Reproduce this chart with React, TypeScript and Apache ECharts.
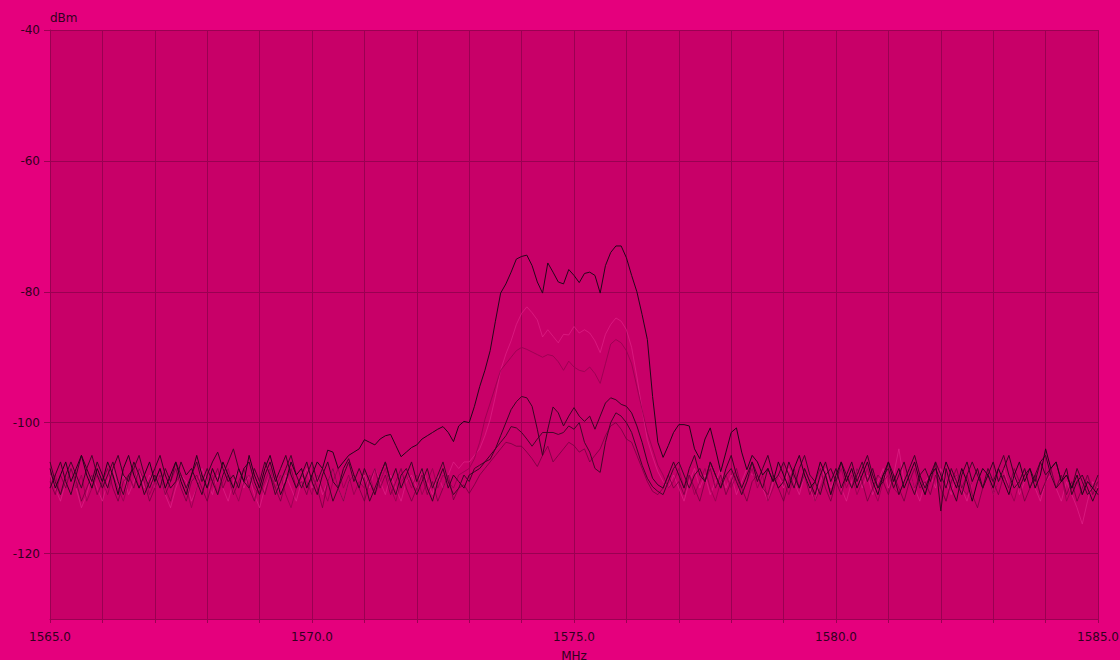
import React, { useEffect, useRef } from "react";
import * as echarts from "echarts";

// Frequency sampling grid (MHz), 0.1 MHz steps from 1565.0 to 1585.0
const freqStart = 1565;
const freqStep = 0.1;
const pointCount = 201;

const xLabelValues = [1565, 1570, 1575, 1580, 1585];
const yLabelValues = [-120, -100, -80, -60, -40];

// Trace A (strongest, black)
const levelA = [
  -107, -110, -108, -106, -109, -107, -105, -108, -110, -107,
  -109, -106, -108, -111, -107, -105, -108, -110, -108, -106,
  -109, -107, -110, -108, -106, -109, -111, -108, -105, -108,
  -110, -107, -109, -106, -108, -110, -107, -109, -105, -108,
  -110, -107, -105, -108, -111, -109, -106, -108, -107, -110,
  -108, -106, -107, -104.2, -104.5, -107, -106, -105, -104.5, -104,
  -102.6, -103, -103.4, -102.5, -102, -101.8, -103.5, -105.2, -104.5, -103.8,
  -103.4, -102.5, -102, -101.5, -101, -100.6, -101.5, -102.9, -100.5, -99.8,
  -100, -97.5, -94.5, -92, -89, -84.5, -80.2, -78.8, -77, -75,
  -74.6, -74.4, -76, -78.5, -80.2, -75.6, -77, -78.5, -78.8, -76.6,
  -77.5, -78.6, -77.2, -77, -77.5, -80.2, -76, -74, -73, -73,
  -74.8, -77.5, -80, -83.5, -87.3, -96, -103, -105.3, -103.5, -101.5,
  -100.3, -100.3, -100.5, -104, -105.5, -102.5, -100.8, -104, -107.5, -104.5,
  -101.5, -100.8, -104.5, -107.2, -105, -106, -108, -107, -109, -106,
  -108, -110, -107, -105, -108, -110, -109, -106, -108, -111,
  -108, -106, -109, -107, -110, -108, -106, -109, -111, -108,
  -106, -109, -107, -110, -108, -106, -109, -111, -108, -107,
  -109, -106, -108, -110, -107, -109, -112, -109, -107, -108,
  -110, -107, -109, -111, -108, -106, -109, -107, -110, -108,
  -104, -107, -106, -109, -108, -110, -108, -111, -109, -110,
  -111,
];

// Trace B (light pink)
const levelB = [
  -108, -110, -112, -109, -107, -110, -113, -111, -108, -110,
  -112, -109, -107, -110, -108, -111, -109, -107, -110, -108,
  -110, -108, -111, -113, -110, -108, -109, -112, -110, -107,
  -109, -111, -108, -110, -112, -109, -107, -110, -108, -111,
  -113, -110, -108, -109, -111, -108, -110, -112, -109, -107,
  -110, -108, -111, -109, -107, -110, -112, -109, -108, -110,
  -108, -110, -107, -109, -111, -108, -110, -112, -109, -108,
  -110, -107, -109, -111, -108, -110, -108, -106, -107, -106,
  -106, -105, -104, -102, -99.5, -96, -92, -89.5, -87.5, -85,
  -83.3, -82.3, -83.2, -84.3, -86.9, -85.8, -86.8, -87.8, -86.5, -86.6,
  -85.3, -86.3, -85.8, -86.3, -87.5, -89.3, -86.5, -85, -84, -84.5,
  -85.8, -88.5, -93, -98, -102.6, -105.2, -107.5, -109, -110, -108,
  -110, -112, -109, -107, -110, -108, -111, -109, -107, -110,
  -108, -111, -109, -107, -108, -108, -110, -112, -109, -108,
  -110, -107, -109, -111, -108, -110, -112, -109, -107, -110,
  -108, -110, -112, -109, -107, -110, -108, -111, -109, -107,
  -110, -108, -104, -109, -107, -110, -112, -109, -108, -110,
  -107, -109, -111, -108, -110, -112, -109, -107, -110, -108,
  -111, -109, -107, -110, -108, -111, -109, -107, -110, -112,
  -109, -108, -110, -112, -109, -111, -113, -115.5, -112, -109,
  -110,
];

// Trace C (mid pink)
const levelC = [
  -110, -108, -111, -109, -107, -110, -108, -112, -110, -108,
  -109, -111, -108, -110, -112, -109, -107, -110, -108, -111,
  -109, -107, -110, -112, -109, -108, -110, -113, -110, -108,
  -110, -108, -111, -109, -107, -110, -112, -109, -108, -110,
  -111, -109, -107, -110, -108, -111, -113, -110, -108, -109,
  -111, -108, -110, -112, -109, -107, -110, -108, -111, -109,
  -110, -108, -111, -109, -107, -110, -112, -109, -108, -110,
  -108, -111, -109, -107, -110, -108, -109, -110, -108, -107.5,
  -107, -105.5, -103, -99.5, -97, -94.5, -92, -91, -90, -89,
  -88.5, -88.8, -89.2, -89.6, -90, -89.6, -89.8, -90.7, -92, -90.6,
  -91.5, -92, -92.2, -91.5, -92.5, -94, -91, -88, -87.3, -87.8,
  -89, -91, -94.5, -98, -101.5, -104, -106.5, -108, -110, -109,
  -107, -110, -108, -111, -109, -107, -110, -112, -109, -108,
  -110, -108, -111, -109, -107, -110, -108, -112, -110, -108,
  -109, -111, -108, -110, -107, -109, -112, -110, -108, -111,
  -109, -107, -110, -108, -111, -109, -107, -110, -112, -109,
  -108, -110, -111, -109, -107, -110, -108, -111, -109, -107,
  -110, -112, -109, -108, -110, -111, -109, -107, -110, -108,
  -111, -109, -108, -110, -112, -109, -107, -110, -108, -111,
  -109, -107, -110, -108, -112, -110, -109, -111, -108, -110,
  -109,
];

// Trace D (black, low signal)
const levelD = [
  -110, -108, -106, -109, -111, -108, -105, -107, -109, -106,
  -108, -110, -107, -105, -108, -109, -106, -108, -111, -109,
  -107, -105, -108, -110, -109, -106, -108, -107, -109, -111,
  -108, -106, -104.5, -107, -109, -108, -110, -107, -106, -109,
  -111, -108, -106, -109, -107, -105, -108, -110, -108, -106,
  -109, -111, -108, -106, -109, -110, -107, -105.5, -108, -110,
  -107, -109, -111, -108, -106, -109, -107, -110, -108, -106,
  -109, -107, -110, -112, -109, -107, -110, -108, -109, -110,
  -108, -107.5, -107, -106, -105, -104, -102, -100, -98, -96.8,
  -96, -96.2, -97.5, -101, -105, -101, -97.6, -98.5, -100.5, -99,
  -97.7, -99, -99.8, -99, -101, -99, -97, -96.2, -96.5, -97.2,
  -97.5, -98.5, -100.5, -103, -106, -108.5, -109.5, -110, -108, -106,
  -108, -110, -107, -105, -108, -109, -106, -108, -110, -107,
  -105, -108, -110, -108, -106, -109, -107, -105, -108, -110,
  -109, -106, -108, -110, -107, -109, -111, -108, -106, -109,
  -107, -110, -108, -106, -109, -107, -105, -108, -110, -109,
  -106, -108, -111, -109, -107, -105, -108, -110, -108, -106,
  -113.5, -107, -110, -112, -108, -106, -109, -107, -110, -108,
  -106, -109, -107, -105, -108, -110, -108, -107, -109, -106,
  -105, -108, -110, -109, -107, -111, -109, -108, -110, -112,
  -110,
];

// Trace E (black, low signal)
const levelE = [
  -106, -109, -111, -108, -106, -108, -110, -107, -105, -108,
  -110, -108, -106, -109, -111, -108, -107, -105, -108, -110,
  -108, -110, -107, -109, -106, -108, -110, -108, -106, -109,
  -107, -109, -111, -108, -106, -104, -107, -109, -110, -107,
  -109, -106, -108, -111, -109, -107, -105, -108, -110, -108,
  -106, -109, -107, -109, -112, -110, -108, -106, -109, -107,
  -109, -112, -110, -108, -106, -109, -111, -108, -107, -109,
  -111, -109, -107, -110, -108, -106, -109, -111, -110, -108,
  -109, -107, -106.5, -106, -105.6, -104, -103, -102, -100.6, -100.8,
  -101.5, -102.5, -103.6, -102.5, -101.5, -101.5, -101.5, -101.8, -101.5, -100.5,
  -101, -100, -103, -104.5, -107, -107.6, -103, -100, -98.5, -99,
  -100, -101.5, -104, -106.5, -108.5, -109.8, -110.5, -111, -109, -107,
  -106, -108, -110, -108, -107, -109, -106, -108, -110, -108,
  -107, -109, -111, -109, -106, -108, -110, -107, -109, -108,
  -106, -108, -110, -107, -105, -108, -109, -111, -108, -107,
  -109, -106, -108, -110, -108, -106, -109, -107, -110, -108,
  -107, -110, -108, -106, -109, -111, -108, -107, -109, -106,
  -108, -110, -107, -109, -111, -108, -106, -108, -110, -107,
  -109, -107, -105, -108, -110, -109, -107, -110, -108, -106,
  -108, -107, -106, -109, -108, -110, -107, -109, -111, -110,
  -108,
];

// Trace F (dark magenta, low signal)
const levelF = [
  -109, -111, -108, -110, -107, -109, -112, -110, -108, -111,
  -109, -107, -110, -112, -109, -108, -110, -107, -109, -112,
  -110, -108, -111, -109, -107, -110, -112, -109, -108, -110,
  -112, -109, -107, -110, -108, -111, -109, -107, -110, -112,
  -109, -111, -108, -110, -112, -109, -107, -110, -109, -111,
  -108, -110, -113, -109, -107, -110, -112, -109, -108, -110,
  -112, -109, -107, -110, -108, -111, -109, -107, -110, -112,
  -110, -108, -111, -109, -112, -110, -108, -111.8, -110, -109.5,
  -110.8, -109.5, -108, -107, -106, -105, -104, -103, -103.2, -103.6,
  -103.6, -104.5, -105.5, -106.7, -105, -103.6, -106, -105, -104, -103,
  -103.5, -104.5, -104, -106, -105, -104, -102, -100.5, -100, -101,
  -102.5, -103, -105, -107, -109, -110.5, -111, -110, -108, -110,
  -109, -111, -108, -110, -112, -109, -107, -110, -108, -111,
  -109, -107, -110, -112, -109, -108, -110, -111, -108, -110,
  -112, -109, -107, -110, -108, -111, -109, -107, -110, -112,
  -109, -111, -108, -110, -107, -109, -112, -110, -108, -109,
  -111, -108, -110, -112, -109, -107, -110, -109, -111, -108,
  -110, -112, -109, -107, -110, -108, -111, -113, -110, -108,
  -109, -111, -108, -110, -107, -109, -112, -110, -108, -111,
  -109, -107, -110, -108, -111, -109, -112, -110, -108, -111,
  -109,
];

const traces = [
  { name: "B", values: levelB, color: "rgba(226,40,140,0.6)" },
  { name: "C", values: levelC, color: "rgba(150,0,80,0.85)" },
  { name: "F", values: levelF, color: "rgba(105,0,58,0.7)" },
  { name: "E", values: levelE, color: "#45072a" },
  { name: "D", values: levelD, color: "#3a0524" },
  { name: "A", values: levelA, color: "#24061a" },
];

const gridColor = "#9a0052";
const textColor = "#320020";

if (typeof document !== "undefined") {
  document.documentElement.style.margin = "0";
  document.documentElement.style.padding = "0";
  document.documentElement.style.overflow = "hidden";
  document.body.style.margin = "0";
  document.body.style.padding = "0";
  document.body.style.overflow = "hidden";
}

export default function App() {
  const ref = useRef<HTMLDivElement>(null);

  useEffect(() => {
    if (!ref.current) return;
    const chart = echarts.init(ref.current, undefined, { renderer: "svg" });
    const freqs: number[] = [];
    for (let i = 0; i < pointCount; i++) {
      freqs.push(Math.round((freqStart + i * freqStep) * 10) / 10);
    }
    chart.setOption({
      animation: false,
      backgroundColor: "#e5007d",
      textStyle: { fontFamily: "DejaVu Sans" },
      grid: {
        left: 50,
        top: 30,
        width: 1048,
        height: 589,
        show: true,
        backgroundColor: "#c80068",
        borderWidth: 0,
        containLabel: false,
        outerBoundsMode: "none",
      },
      xAxis: {
        type: "value",
        min: 1565,
        max: 1585,
        interval: 1,
        name: "MHz",
        nameLocation: "middle",
        nameGap: 31,
        nameTextStyle: { color: textColor, fontSize: 12, fontFamily: "DejaVu Sans" },
        axisLine: { show: true, lineStyle: { color: gridColor, width: 1 } },
        axisTick: { show: true, length: 4, lineStyle: { color: gridColor } },
        axisLabel: {
          color: textColor,
          fontSize: 12,
          fontFamily: "DejaVu Sans",
          margin: 12,
          showMinLabel: true,
          showMaxLabel: true,
          formatter: (v: number) =>
            xLabelValues.indexOf(Math.round(v)) >= 0 ? Number(v).toFixed(1) : "",
        },
        splitLine: { show: true, lineStyle: { color: gridColor, width: 1 } },
      },
      yAxis: {
        type: "value",
        min: -130,
        max: -40,
        interval: 5,
        name: "dBm",
        nameLocation: "end",
        nameGap: 6,
        nameTextStyle: {
          color: textColor,
          fontSize: 12,
          fontFamily: "DejaVu Sans",
          align: "left",
          verticalAlign: "bottom",
        },
        axisLine: { show: true, lineStyle: { color: gridColor, width: 1 } },
        axisTick: {
          show: true,
          length: 6,
          customValues: yLabelValues,
          lineStyle: { color: gridColor },
        },
        axisLabel: {
          color: textColor,
          fontSize: 12,
          fontFamily: "DejaVu Sans",
          margin: 10,
          customValues: yLabelValues,
          formatter: (v: number) => (yLabelValues.indexOf(v) >= 0 ? String(v) : ""),
        },
        splitLine: { show: true, lineStyle: { color: gridColor, width: 1 } },
      },
      series: traces.map((t) => ({
        name: t.name,
        type: "line",
        showSymbol: false,
        symbol: "none",
        smooth: false,
        lineStyle: { color: t.color, width: 1 },
        itemStyle: { color: t.color },
        emphasis: { disabled: true },
        data: t.values.map((v, i) => [freqs[i], v]),
      })),
    });
    return () => chart.dispose();
  }, []);

  return <div ref={ref} style={{ width: 1120, height: 660 }} />;
}
